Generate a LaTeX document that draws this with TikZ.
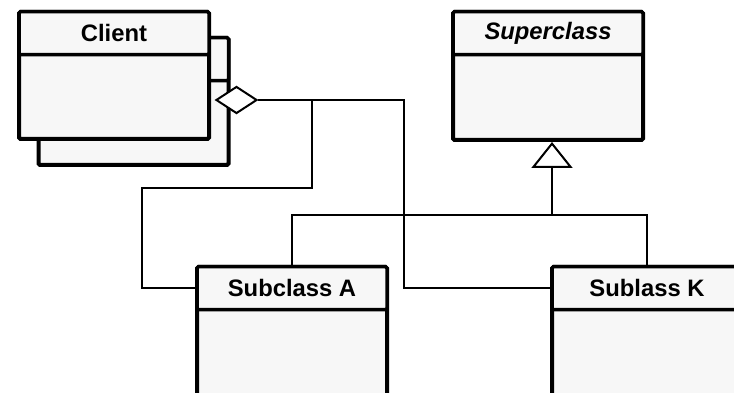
\documentclass[tikz,border=0pt]{standalone}
\usepackage{fontspec}
\setmainfont{Liberation Sans}
\usetikzlibrary{shapes.geometric,arrows.meta,calc}
\definecolor{boxfill}{HTML}{F7F7F7}
\tikzset{
  clsbody/.style={draw, line width=4pt, fill=boxfill, rounded corners=1.5pt, minimum width=190pt, inner sep=0pt, anchor=north},
  clshead/.style={draw, line width=3.5pt, fill=boxfill, rounded corners=1.5pt, minimum width=190pt, minimum height=43pt, inner sep=0pt, anchor=north, font=\fontsize{23.8pt}{27pt}\selectfont\bfseries},
  conn/.style={line width=2pt},
  aggr/.style={shape=diamond, draw, line width=2pt, fill=white, minimum width=41pt, minimum height=27pt, inner sep=0pt},
  inh/.style={-{Triangle[length=26pt,width=41pt,fill=white,line width=2pt]}}
}
\begin{document}
\begin{tikzpicture}[x=1pt,y=1pt]
\useasboundingbox (0,0) rectangle (734,393);
\clip (0,0) rectangle (734,393);
% Client (stacked)
\node[clsbody, minimum height=127pt] (clientback) at (133.5,357) {};
\node[clshead] (clientbackt) at (clientback.north) {};
\node[clsbody, minimum height=127pt] (client) at (114,383) {};
\node[clshead] (clientt) at (client.north) {Client};
% Superclass
\node[clsbody, minimum height=128pt] (super) at (548,383) {};
\node[clshead] (supert) at (super.north) {\itshape Superclass};
% Subclasses
\node[clsbody, minimum height=150pt] (suba) at (292,128) {};
\node[clshead] (subat) at (suba.north) {Subclass A};
\node[clsbody, minimum height=150pt] (subk) at (647,128) {};
\node[clshead] (subkt) at (subk.north) {Sublass K};
% Aggregation
\node[aggr] (agg) at (236.5,293) {};
\coordinate (j1) at (312,293);
\coordinate (j2) at (404,293);
\draw[conn] (agg.east) -- (j2) |- (subkt.west);
\draw[conn] (j1) |- (142,205) |- (subat.west);
% Inheritance
\coordinate (jn) at (552,178);
\draw[conn] (subat.north) |- (jn) -| (subkt.north);
\draw[conn, inh] (jn) -- (jn |- super.south);
\end{tikzpicture}
\end{document}
